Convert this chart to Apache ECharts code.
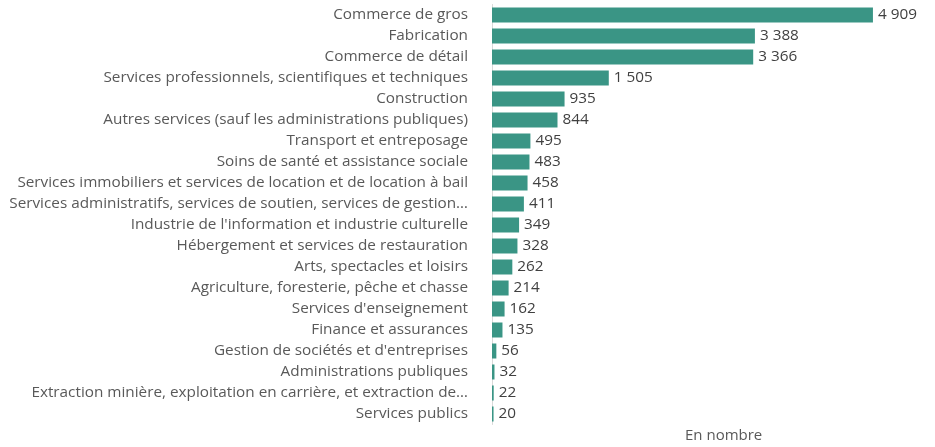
<!DOCTYPE html>
<html>
<head>
<meta charset="utf-8">
<script src="https://cdn.jsdelivr.net/npm/echarts@6/dist/echarts.min.js"></script>
<style>
  html, body { margin: 0; padding: 0; background: #fff; }
  #main { width: 935px; height: 447px; }
</style>
</head>
<body>
<div id="main"></div>
<script>
// secteurs, du plus grand au plus petit
var secteurs = [
  'Commerce de gros',
  'Fabrication',
  'Commerce de détail',
  'Services professionnels, scientifiques et techniques',
  'Construction',
  'Autres services (sauf les administrations publiques)',
  'Transport et entreposage',
  'Soins de santé et assistance sociale',
  'Services immobiliers et services de location et de location à bail',
  'Services administratifs, services de soutien, services de gestion…',
  "Industrie de l'information et industrie culturelle",
  'Hébergement et services de restauration',
  'Arts, spectacles et loisirs',
  'Agriculture, foresterie, pêche et chasse',
  "Services d'enseignement",
  'Finance et assurances',
  "Gestion de sociétés et d'entreprises",
  'Administrations publiques',
  'Extraction minière, exploitation en carrière, et extraction de…',
  'Services publics'
];
var nombres = [4909, 3388, 3366, 1505, 935, 844, 495, 483, 458, 411, 349, 328, 262, 214, 162, 135, 56, 32, 22, 20];

var police = '"Open Sans", "Liberation Sans", sans-serif';

function fmt(v) {
  return String(v).replace(/\B(?=(\d{3})+(?!\d))/g, ' ');
}

var myChart = echarts.init(document.getElementById('main'));
myChart.setOption({
  animation: false,
  textStyle: { fontFamily: police },
  grid: { left: 492, right: 55, top: 4.5, bottom: 22.5, containLabel: false },
  xAxis: {
    type: 'value',
    min: 0,
    max: 5000,
    show: false
  },
  yAxis: {
    type: 'category',
    inverse: true,
    data: secteurs,
    axisLine: { show: true, lineStyle: { color: '#d9d9d9', width: 1 } },
    axisTick: { show: false },
    axisLabel: { margin: 24, color: '#595959', fontSize: 15.3, fontFamily: police }
  },
  series: [{
    type: 'bar',
    data: nombres,
    barWidth: 15,
    itemStyle: { color: '#3a9585' },
    label: {
      show: true,
      position: 'right',
      distance: 5,
      color: '#404040',
      fontSize: 15.3,
      fontFamily: police,
      formatter: function (p) { return fmt(p.value); }
    }
  }],
  graphic: [{
    type: 'text',
    left: 685,
    top: 428,
    style: { text: 'En nombre', fill: '#595959', font: '15px ' + police }
  }]
});
</script>
</body>
</html>
